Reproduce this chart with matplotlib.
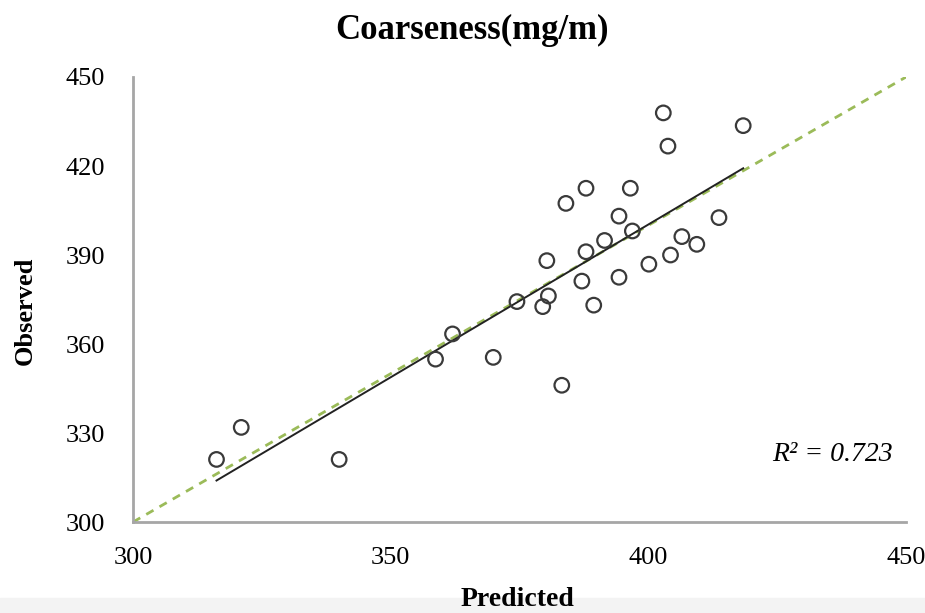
import matplotlib.pyplot as plt
from matplotlib.patches import Rectangle
import numpy as np

plt.rcParams['font.family'] = ['Liberation Serif', 'DejaVu Serif']

# predicted vs observed coarseness (mg/m)
predicted = [316.2, 321.0, 340.0, 358.7, 362.0, 369.9, 374.5, 379.5, 380.6, 380.3,
             383.2, 384.0, 387.1, 387.9, 387.9, 389.4, 391.5, 394.3, 394.3, 396.9,
             396.5, 400.1, 402.9, 403.8, 404.3, 406.5, 409.4, 413.7, 418.4]
observed = [321.1, 331.9, 321.1, 354.9, 363.4, 355.5, 374.3, 372.6, 376.2, 388.1,
            346.1, 407.4, 381.2, 391.1, 412.5, 373.1, 394.9, 403.1, 382.5, 398.1,
            412.5, 386.9, 437.9, 426.7, 390.0, 396.2, 393.6, 402.6, 433.6]
r2_text = "R² = 0.723"
xticks = [300, 350, 400, 450]
yticks = [300, 330, 360, 390, 420, 450]

x = np.array(predicted)
y = np.array(observed)

fig = plt.figure(figsize=(9.25, 6.13), dpi=100)
# light strip along the bottom edge, kept behind the axes
fig.patches.append(Rectangle((0, 0), 1, 0.025, transform=fig.transFigure,
                             color='#f3f3f3', zorder=-1))
ax = fig.add_axes([0.1438, 0.1484, 0.8357, 0.726])
ax.patch.set_alpha(0)

# 1:1 line
ax.plot([300, 450], [300, 450], color='#9bbb59', lw=2, dashes=(3, 2.5), zorder=1)

# least squares trend line
k, b = np.polyfit(x, y, 1)
xf = np.array([x.min(), x.max()])
ax.plot(xf, k * xf + b, color='#222222', lw=1.4, zorder=2)

ax.scatter(x, y, s=110, facecolors='none', edgecolors='#3a3a3a', linewidths=1.6, zorder=3)

ax.set_xlim(300, 450)
ax.set_ylim(300, 450)
ax.set_xticks(xticks)
ax.set_yticks(yticks)
ax.tick_params(axis='x', length=0, labelsize=19, pad=18)
ax.tick_params(axis='y', length=0, labelsize=19, pad=20)
for s in ['top', 'right']:
    ax.spines[s].set_visible(False)
for s in ['left', 'bottom']:
    ax.spines[s].set_color('#a6a6a6')
    ax.spines[s].set_linewidth(2)

ax.set_xlabel('Predicted', fontsize=20, fontweight='bold')
ax.xaxis.set_label_coords(0.497, -0.146)
ax.set_ylabel('Observed', fontsize=19, fontweight='bold')
ax.yaxis.set_label_coords(-0.124, 0.474)
fig.text(0.51, 0.951, 'Coarseness(mg/m)', fontsize=25, fontweight='bold',
         ha='center', va='center')
ax.text(447.5, 322.6, r2_text, fontsize=20, style='italic', ha='right', va='center')

fig.savefig('out.png', dpi=100)
